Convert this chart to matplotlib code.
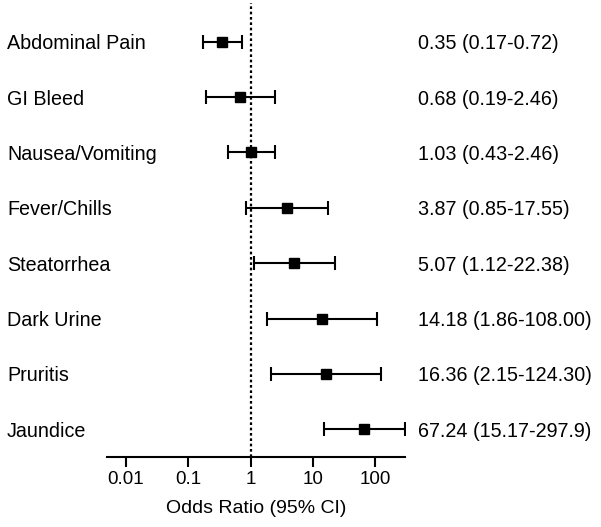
import numpy as np
import matplotlib
matplotlib.use("Agg")
import matplotlib.pyplot as plt
import matplotlib.transforms as mtransforms

plt.rcParams['font.family'] = ['Liberation Sans', 'DejaVu Sans']

symptoms = ["Abdominal Pain", "GI Bleed", "Nausea/Vomiting", "Fever/Chills",
            "Steatorrhea", "Dark Urine", "Pruritis", "Jaundice"]
odds = [0.35, 0.68, 1.03, 3.87, 5.07, 14.18, 16.36, 67.24]
lower = [0.17, 0.19, 0.43, 0.85, 1.12, 1.86, 2.15, 15.17]
upper = [0.72, 2.46, 2.46, 17.55, 22.38, 108.00, 124.30, 297.9]
labels = ["0.35 (0.17-0.72)", "0.68 (0.19-2.46)", "1.03 (0.43-2.46)",
          "3.87 (0.85-17.55)", "5.07 (1.12-22.38)", "14.18 (1.86-108.00)",
          "16.36 (2.15-124.30)", "67.24 (15.17-297.9)"]
xticks = [0.01, 0.1, 1, 10, 100]
xticklabels = ["0.01", "0.1", "1", "10", "100"]

W, H = 601, 527
fig = plt.figure(figsize=(W / 100, H / 100), dpi=100)
ax = fig.add_axes([107 / W, (H - 457) / H, (405 - 107) / W, (457 - 3) / H])

y = np.arange(len(symptoms))
odds = np.array(odds)
err = [odds - np.array(lower), np.array(upper) - odds]
ax.errorbar(odds, y, xerr=err, fmt='s', color='black', ms=6.5, lw=1.5,
            capsize=5, capthick=1.5, ecolor='black')
ax.axvline(1, color='black', ls=(0, (1.2, 1.2)), lw=1.6, zorder=0)

ax.set_xscale('log')
ax.set_xlim(0.005, 300)
ax.set_ylim(len(symptoms) - 0.5, -0.7)
ax.set_xticks(xticks)
ax.set_xticklabels(xticklabels)
ax.minorticks_off()
ax.set_yticks([])
for s in ['left', 'top', 'right']:
    ax.spines[s].set_visible(False)
ax.spines['bottom'].set_linewidth(1.5)
ax.tick_params(axis='x', length=7, width=1.5, labelsize=13.5, pad=3)
ax.set_xlabel("Odds Ratio (95% CI)", fontsize=14, labelpad=9)

# labels on both sides: x in figure coords, y in data coords
trans = mtransforms.blended_transform_factory(fig.transFigure, ax.transData)
for i, (name, lab) in enumerate(zip(symptoms, labels)):
    ax.text(7 / W, i, name, transform=trans, fontsize=14.2,
            va='center_baseline', ha='left')
    ax.text(418 / W, i, lab, transform=trans, fontsize=14.2,
            va='center_baseline', ha='left')

fig.savefig("out.png", dpi=100)
